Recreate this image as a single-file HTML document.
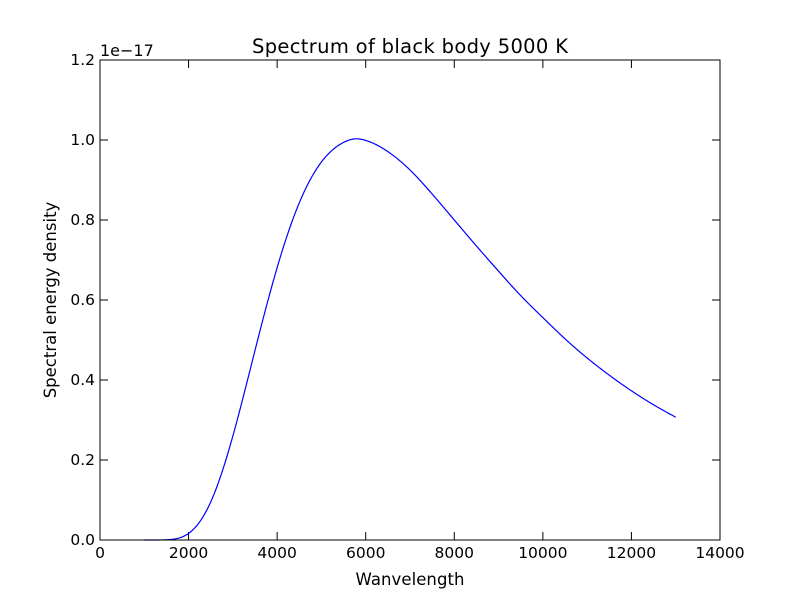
<!DOCTYPE html>
<html><head><meta charset="utf-8"><style>
body{margin:0;background:#fff}
svg text{font-family:"DejaVu Sans","Liberation Sans",sans-serif;fill:#000}
</style></head><body>
<svg id="chart" width="800" height="600" xmlns="http://www.w3.org/2000/svg">
<rect width="800" height="600" fill="#fff"/>
<text x="410" y="53" font-size="19.5" text-anchor="middle" textLength="316">Spectrum of black body 5000 K</text>
<text x="410" y="585" font-size="16.5" text-anchor="middle" textLength="109">Wanvelength</text>
<text transform="translate(56,300) rotate(-90)" font-size="16.5" text-anchor="middle">Spectral energy density</text>
<text x="100" y="56" font-size="16">1e−17</text>
<g id="ticks"></g>
<path id="curve" fill="none" stroke="#0000ff" stroke-width="1.2"/>
<rect x="100" y="60" width="620" height="480" fill="none" stroke="#000" stroke-width="1"/>
</svg>
<script>
const wavelengths=[1000,1500,2000,2500,3000,3500,4000,4500,5000,5500,5800,6000,6500,7000,7500,8000,8500,9000,9500,10000,10500,11000,11500,12000,12500,13000];
const energy=[0,0.0006,0.0164,0.095,0.26,0.474,0.681,0.843,0.945,0.994,1.003,0.999,0.971,0.925,0.865,0.80,0.735,0.672,0.611,0.556,0.503,0.455,0.412,0.373,0.338,0.307];
const xTicks=[0,2000,4000,6000,8000,10000,12000,14000];
const yTicks=[0,0.2,0.4,0.6,0.8,1.0,1.2];
const yTickLabels=["0.0","0.2","0.4","0.6","0.8","1.0","1.2"];
const X=v=>100+v/14000*620, Y=v=>540-v/1.2*480;
const ns="http://www.w3.org/2000/svg", g=document.getElementById('ticks');
function ln(x1,y1,x2,y2){const l=document.createElementNS(ns,'line');l.setAttribute('x1',x1);l.setAttribute('y1',y1);l.setAttribute('x2',x2);l.setAttribute('y2',y2);l.setAttribute('stroke','#000');


g.appendChild(l);}
function tx(x,y,s,a){const t=document.createElementNS(ns,'text');t.setAttribute('x',x);t.setAttribute('y',y);t.setAttribute('font-size','15.5');t.setAttribute('text-anchor',a);t.textContent=s;


g.appendChild(t);}
xTicks.forEach(v=>{const x=X(v);ln(x,540,x,532);ln(x,60,x,68);tx(x,558,String(v),'middle');});
yTicks.forEach((v,i)=>{const y=Y(v);ln(100,y,108,y);ln(720,y,712,y);tx(95,y+5,yTickLabels[i],'end');});
// natural cubic spline through the data
const n=wavelengths.length, xs=wavelengths, ys=energy;
const h=[],al=[0],l=[1],mu=[0],z=[0],c=new Array(n).fill(0),b=[],dd=[];
for(let i=0;i<n-1;i++)h.push(xs[i+1]-xs[i]);
for(let i=1;i<n-1;i++)al.push(3/h[i]*(ys[i+1]-ys[i])-3/h[i-1]*(ys[i]-ys[i-1]));
for(let i=1;i<n-1;i++){l[i]=2*(xs[i+1]-xs[i-1])-h[i-1]*mu[i-1];mu[i]=h[i]/l[i];z[i]=(al[i]-h[i-1]*z[i-1])/l[i];}
for(let j=n-2;j>=0;j--){c[j]=(j>0?z[j]-mu[j]*c[j+1]:0);b[j]=(ys[j+1]-ys[j])/h[j]-h[j]*(c[j+1]+2*c[j])/3;dd[j]=(c[j+1]-c[j])/(3*h[j]);}
let d='';
for(let i=0;i<n-1;i++){for(let k=0;k<=20;k++){const t=h[i]*k/20;const v=Math.max(0,ys[i]+b[i]*t+c[i]*t*t+dd[i]*t*t*t);
d+=(d?' L':'M')+X(xs[i]+t).toFixed(2)+','+Y(v).toFixed(2);}}
document.getElementById('curve').setAttribute('d',d);
</script>
</body></html>
